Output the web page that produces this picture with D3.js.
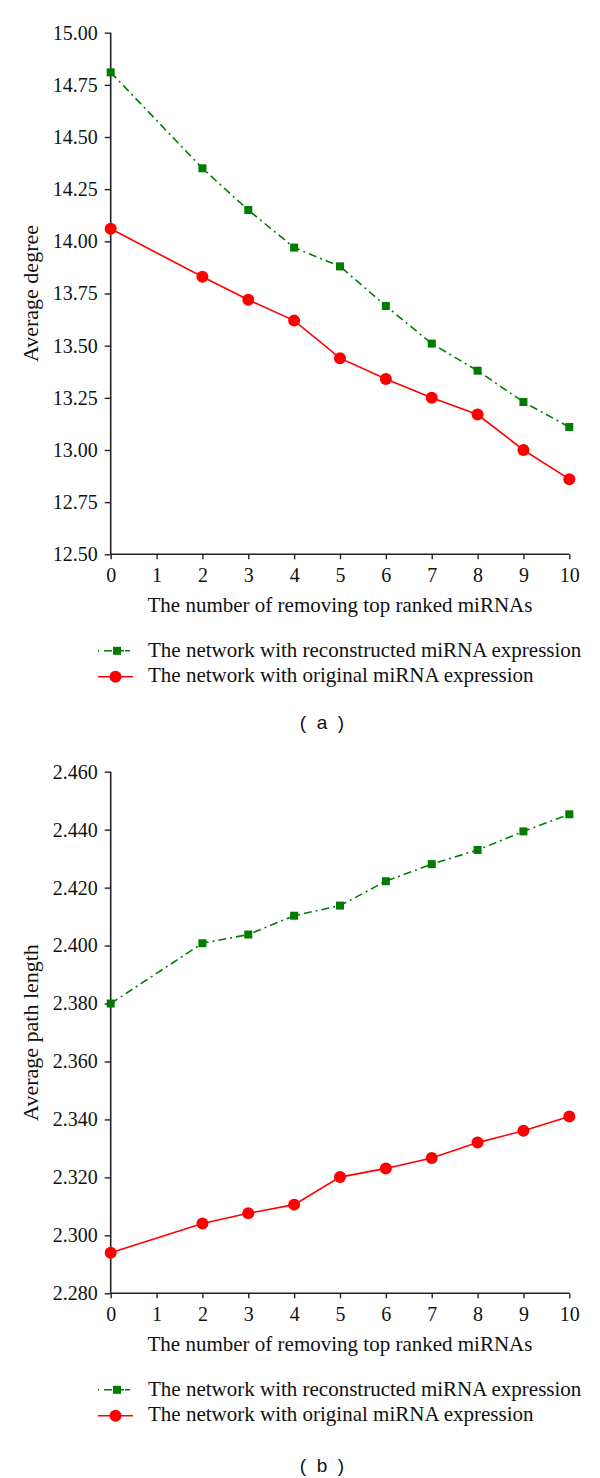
<!DOCTYPE html>
<html>
<head>
<meta charset="utf-8">
<script src="https://cdn.jsdelivr.net/npm/d3@7"></script>
<style>
  html, body { margin: 0; padding: 0; background: #fff; }
  svg { display: block; }
</style>
</head>
<body>
<svg id="chart" width="600" height="1478"></svg>
<script>
// ---------- Data ----------
const xValues = [0, 2, 3, 4, 5, 6, 7, 8, 9, 10];
const xTicks = [0, 1, 2, 3, 4, 5, 6, 7, 8, 9, 10];

const degreeReconstructed = [14.81, 14.35, 14.15, 13.97, 13.88, 13.69, 13.51, 13.38, 13.23, 13.11];
const degreeOriginal      = [14.06, 13.83, 13.72, 13.62, 13.44, 13.34, 13.25, 13.17, 13.00, 12.86];
const degreeTicks = [12.5, 12.75, 13.0, 13.25, 13.5, 13.75, 14.0, 14.25, 14.5, 14.75, 15.0];

const pathReconstructed = [2.380, 2.4008, 2.4038, 2.4103, 2.4138, 2.4222, 2.4281, 2.4330, 2.4394, 2.4453];
const pathOriginal      = [2.294, 2.3041, 2.3076, 2.3106, 2.3201, 2.3231, 2.3267, 2.3320, 2.3361, 2.3410];
const pathTicks = [2.28, 2.30, 2.32, 2.34, 2.36, 2.38, 2.40, 2.42, 2.44, 2.46];

const seriesNames = ["The network with reconstructed miRNA expression", "The network with original miRNA expression"];
const xTitle = "The number of removing top ranked miRNAs";

// ---------- Drawing ----------
const svg = d3.select("#chart");
const SERIF = "'Liberation Serif', 'DejaVu Serif', serif";
const GREEN = "#007c00";
const RED = "#ff0000";

function panel(opts) {
  const g = svg.append("g");
  const x = d3.scaleLinear().domain([0, 10]).range([110.7, 569.3]);
  const y = d3.scaleLinear().domain(opts.yDomain).range([opts.bottom, opts.top]);

  const ya = g.append("g").attr("transform", `translate(${x(0)},0)`)
    .call(d3.axisLeft(y).tickValues(opts.yTicks).tickFormat(d3.format(opts.fmt)).tickSize(6).tickPadding(7));
  const xa = g.append("g").attr("transform", `translate(0,${opts.bottom})`)
    .call(d3.axisBottom(x).tickValues(xTicks).tickFormat(d3.format("d")).tickSize(5).tickPadding(9));
  [ya, xa].forEach(a => {
    a.attr("font-family", SERIF).attr("font-size", 20);
    a.select(".domain").attr("stroke", "#222").attr("stroke-width", 1.6);
    a.selectAll(".tick line").attr("stroke", "#222").attr("stroke-width", 1.4);
    a.selectAll(".tick text").attr("font-family", SERIF).attr("font-size", 20).attr("fill", "#111");
  });
  ya.select(".domain").attr("d", `M0,${opts.bottom}V${opts.top}`);
  xa.select(".domain").attr("d", `M${x(0)},0H${x(10)}`);

  g.append("text")
    .attr("transform", `translate(38,${(opts.top + opts.bottom) / 2}) rotate(-90)`)
    .attr("text-anchor", "middle")
    .attr("font-family", SERIF).attr("font-size", 22).attr("fill", "#111")
    .text(opts.yTitle);
  g.append("text")
    .attr("x", 340).attr("y", opts.bottom + 58)
    .attr("text-anchor", "middle")
    .attr("font-family", SERIF).attr("font-size", 21).attr("fill", "#111")
    .text(xTitle);

  const line = d3.line().x((d, i) => x(xValues[i])).y(d => y(d));

  g.append("path").datum(opts.recon)
    .attr("d", line).attr("fill", "none")
    .attr("stroke", GREEN).attr("stroke-width", 1.6)
    .attr("stroke-dasharray", "8,4,2,4");
  g.selectAll(".sq").data(opts.recon).enter().append("rect")
    .attr("x", (d, i) => x(xValues[i]) - 4).attr("y", d => y(d) - 4)
    .attr("width", 8).attr("height", 8).attr("fill", GREEN);

  g.append("path").datum(opts.orig)
    .attr("d", line).attr("fill", "none")
    .attr("stroke", RED).attr("stroke-width", 1.6);
  g.selectAll(".ci").data(opts.orig).enter().append("circle")
    .attr("cx", (d, i) => x(xValues[i])).attr("cy", d => y(d))
    .attr("r", 6).attr("fill", RED);

  const l1 = opts.bottom + 96.5, l2 = opts.bottom + 122.5;
  g.append("line").attr("x1", 98).attr("x2", 133).attr("y1", l1).attr("y2", l1)
    .attr("stroke", GREEN).attr("stroke-width", 1.6).attr("stroke-dasharray", "1,5,8,4,8");
  g.append("rect").attr("x", 113).attr("y", l1 - 4).attr("width", 8).attr("height", 8).attr("fill", GREEN);
  g.append("line").attr("x1", 98).attr("x2", 133).attr("y1", l2).attr("y2", l2)
    .attr("stroke", RED).attr("stroke-width", 1.6);
  g.append("circle").attr("cx", 115.5).attr("cy", l2).attr("r", 6).attr("fill", RED);
  g.append("text").attr("x", 148).attr("y", opts.bottom + 102.5)
    .attr("font-family", SERIF).attr("font-size", 21).attr("fill", "#111").text(seriesNames[0]);
  g.append("text").attr("x", 148).attr("y", opts.bottom + 127.5)
    .attr("font-family", SERIF).attr("font-size", 21).attr("fill", "#111").text(seriesNames[1]);

  g.append("text").attr("x", 322).attr("y", opts.bottom + opts.capOff)
    .attr("text-anchor", "middle")
    .attr("font-family", "'Liberation Sans', Arial, sans-serif").attr("font-size", 19).attr("fill", "#111")
    .attr("xml:space", "preserve")
    .text(opts.caption);
}

panel({
  yDomain: [12.5, 15], top: 32.7, bottom: 554.3, yTicks: degreeTicks, fmt: ".2f",
  yTitle: "Average degree", recon: degreeReconstructed, orig: degreeOriginal,
  caption: "(  a  )", capOff: 175
});
panel({
  yDomain: [2.28, 2.46], top: 771.7, bottom: 1293.3, yTicks: pathTicks, fmt: ".3f",
  yTitle: "Average path length", recon: pathReconstructed, orig: pathOriginal,
  caption: "(  b  )", capOff: 179
});
</script>
</body>
</html>
